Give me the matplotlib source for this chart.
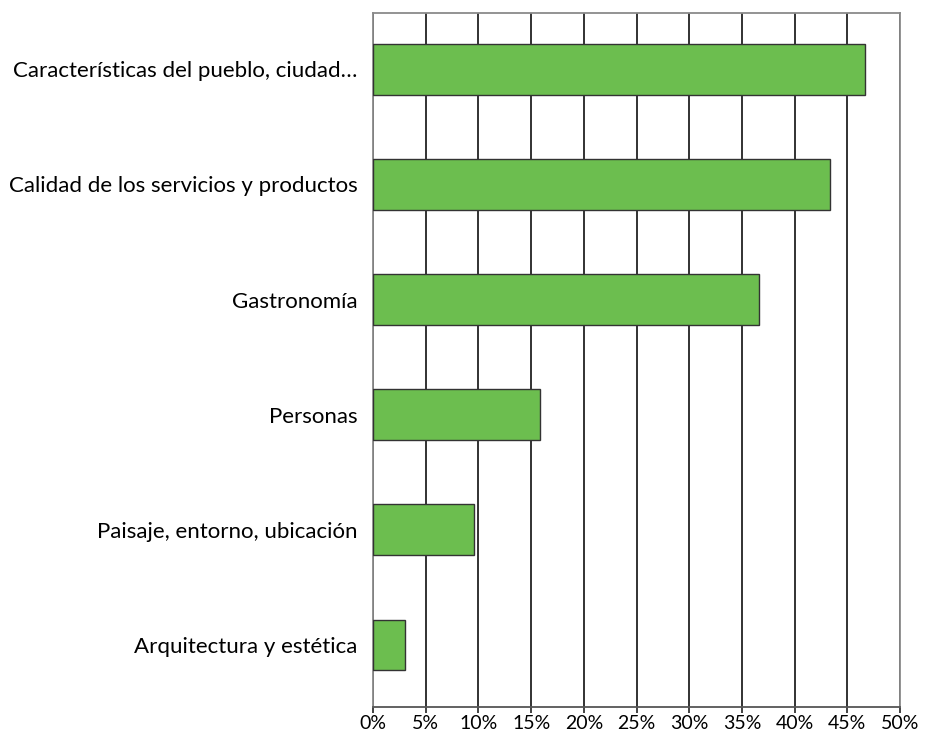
import numpy as np
import matplotlib.pyplot as plt

categories = [
    "Características del pueblo, ciudad…",
    "Calidad de los servicios y productos",
    "Gastronomía",
    "Personas",
    "Paisaje, entorno, ubicación",
    "Arquitectura y estética",
]
values = [46.7, 43.4, 36.6, 15.8, 9.6, 3.0]
ticks = np.arange(0, 51, 5)
tick_labels = ["{}%".format(t) for t in ticks]

plt.rcParams['font.family'] = ['Lato', 'DejaVu Sans']

fig = plt.figure(figsize=(9.32, 7.37), dpi=100)
ax = fig.add_axes([373 / 932, 1 - 707 / 737, (900 - 373) / 932, (707 - 13) / 737])

y = np.arange(len(categories))
ax.barh(y, values, height=0.44, color="#6cbe4f", edgecolor="#333333",
        linewidth=1.0, zorder=3)

ax.set_ylim(len(categories) - 0.46, -0.49)
ax.set_xlim(0, 50)
ax.set_xticks(ticks)
ax.set_xticklabels(tick_labels, fontsize=14)
ax.set_yticks(y)
ax.set_yticklabels(categories, fontsize=16)
ax.tick_params(axis='y', length=0, pad=11)
ax.tick_params(axis='x', length=4, width=1.2, color="#222222", pad=2)

ax.grid(axis='x', color="#222222", linewidth=1.3, zorder=1)
ax.set_axisbelow(True)

for side in ['top', 'left', 'right']:
    ax.spines[side].set_color("#8a8a8a")
    ax.spines[side].set_linewidth(1.3)
ax.spines['bottom'].set_color("#555555")
ax.spines['bottom'].set_linewidth(1.3)

fig.savefig("out.png", dpi=100)
